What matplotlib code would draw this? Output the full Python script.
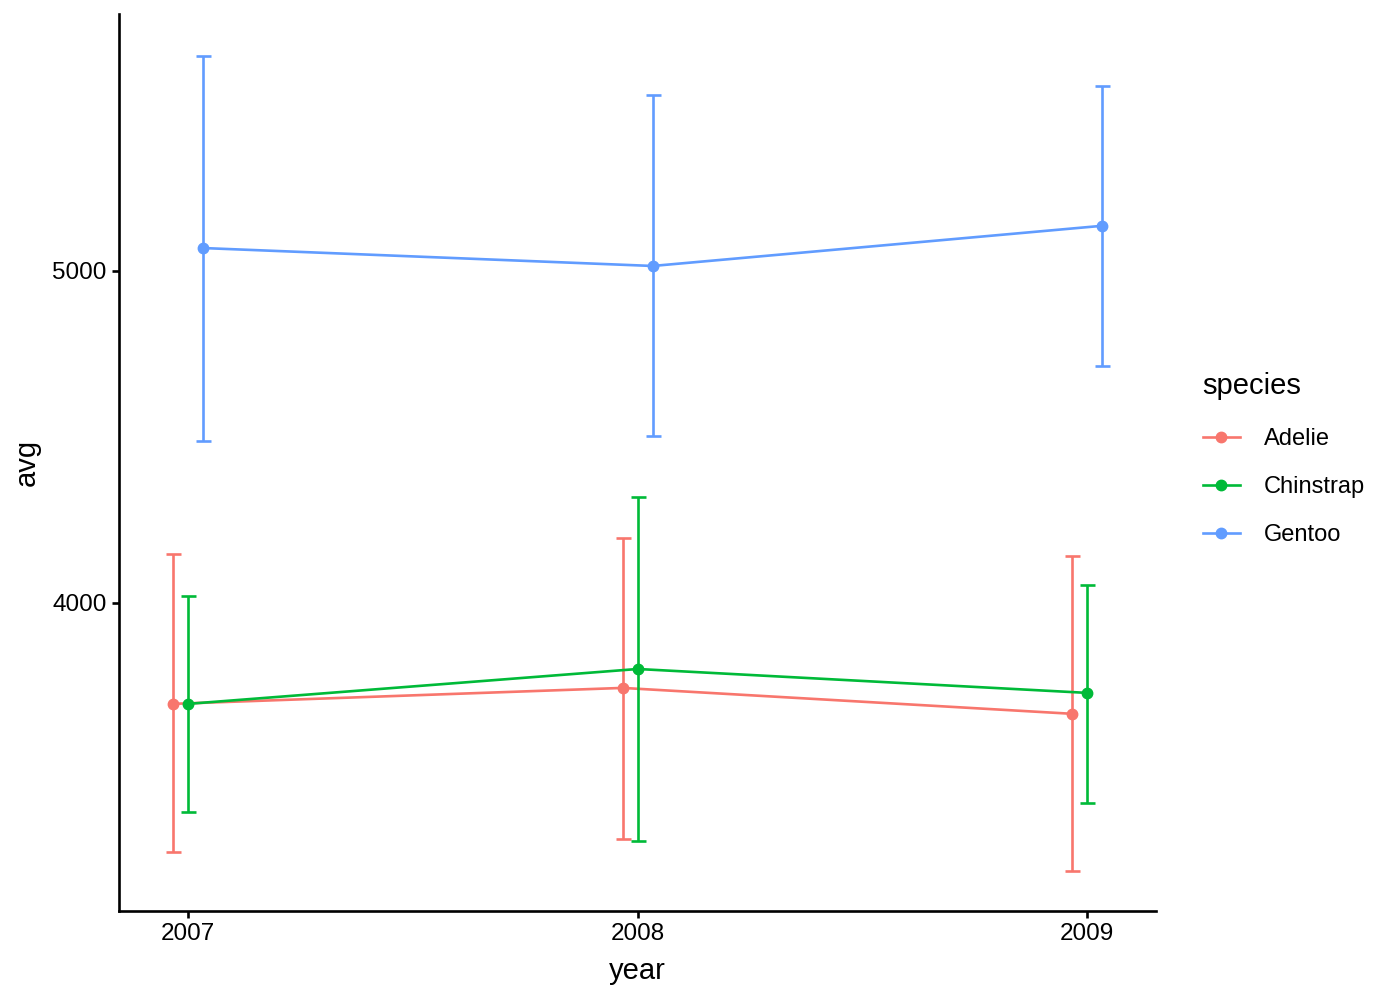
import numpy as np
import matplotlib
matplotlib.use("Agg")
import matplotlib.pyplot as plt

plt.rcParams['font.family'] = ['Liberation Sans', 'DejaVu Sans']

years = [2007, 2008, 2009]
species = ['Adelie', 'Chinstrap', 'Gentoo']
colors = ['#F8766D', '#00BA38', '#619CFF']

# mean and mean +/- sd
avg = {
    'Adelie':    [3696, 3744, 3666],
    'Chinstrap': [3696, 3801, 3729],
    'Gentoo':    [5069, 5015, 5136],
}
upper = {
    'Adelie':    [4148, 4196, 4142],
    'Chinstrap': [4021, 4319, 4054],
    'Gentoo':    [5648, 5530, 5557],
}
lower = {
    'Adelie':    [3250, 3289, 3193],
    'Chinstrap': [3370, 3283, 3398],
    'Gentoo':    [4488, 4503, 4714],
}
dodge = [-1/30, 0, 1/30]

fig = plt.figure(figsize=(14, 10), dpi=100)
ax = fig.add_axes([0.085, 0.089, 0.741, 0.897])

for i, sp in enumerate(species):
    x = np.array(years) + dodge[i]
    y = np.array(avg[sp])
    yerr = [y - np.array(lower[sp]), np.array(upper[sp]) - y]
    ax.errorbar(x, y, yerr=yerr, fmt='none', ecolor=colors[i],
                elinewidth=1.9, capsize=5.4, capthick=1.9)
    ax.plot(x, y, color=colors[i], lw=1.9, marker='o', ms=7.5, label=sp)

ax.set_xlim(2006.846, 2009.154)
ax.set_ylim(3072, 5774)
ax.set_xticks(years)
ax.set_xticklabels([str(y) for y in years])
ax.set_yticks([4000, 5000])
ax.set_xlabel('year', fontsize=21, labelpad=8)
ax.set_ylabel('avg', fontsize=21, labelpad=8)

for s in ['top', 'right']:
    ax.spines[s].set_visible(False)
for s in ['left', 'bottom']:
    ax.spines[s].set_linewidth(1.9)
ax.tick_params(labelsize=17.5, length=5, width=1.9, pad=4)

leg = ax.legend(title='species', loc='center left', bbox_to_anchor=(1.024, 0.504),
                frameon=False, fontsize=17, title_fontsize=21,
                handlelength=1.6, labelspacing=1.1, handletextpad=1.0,
                markerscale=1.0)
leg._legend_box.align = 'left'
leg._legend_box.sep = 20

fig.savefig('out.png', dpi=100)
